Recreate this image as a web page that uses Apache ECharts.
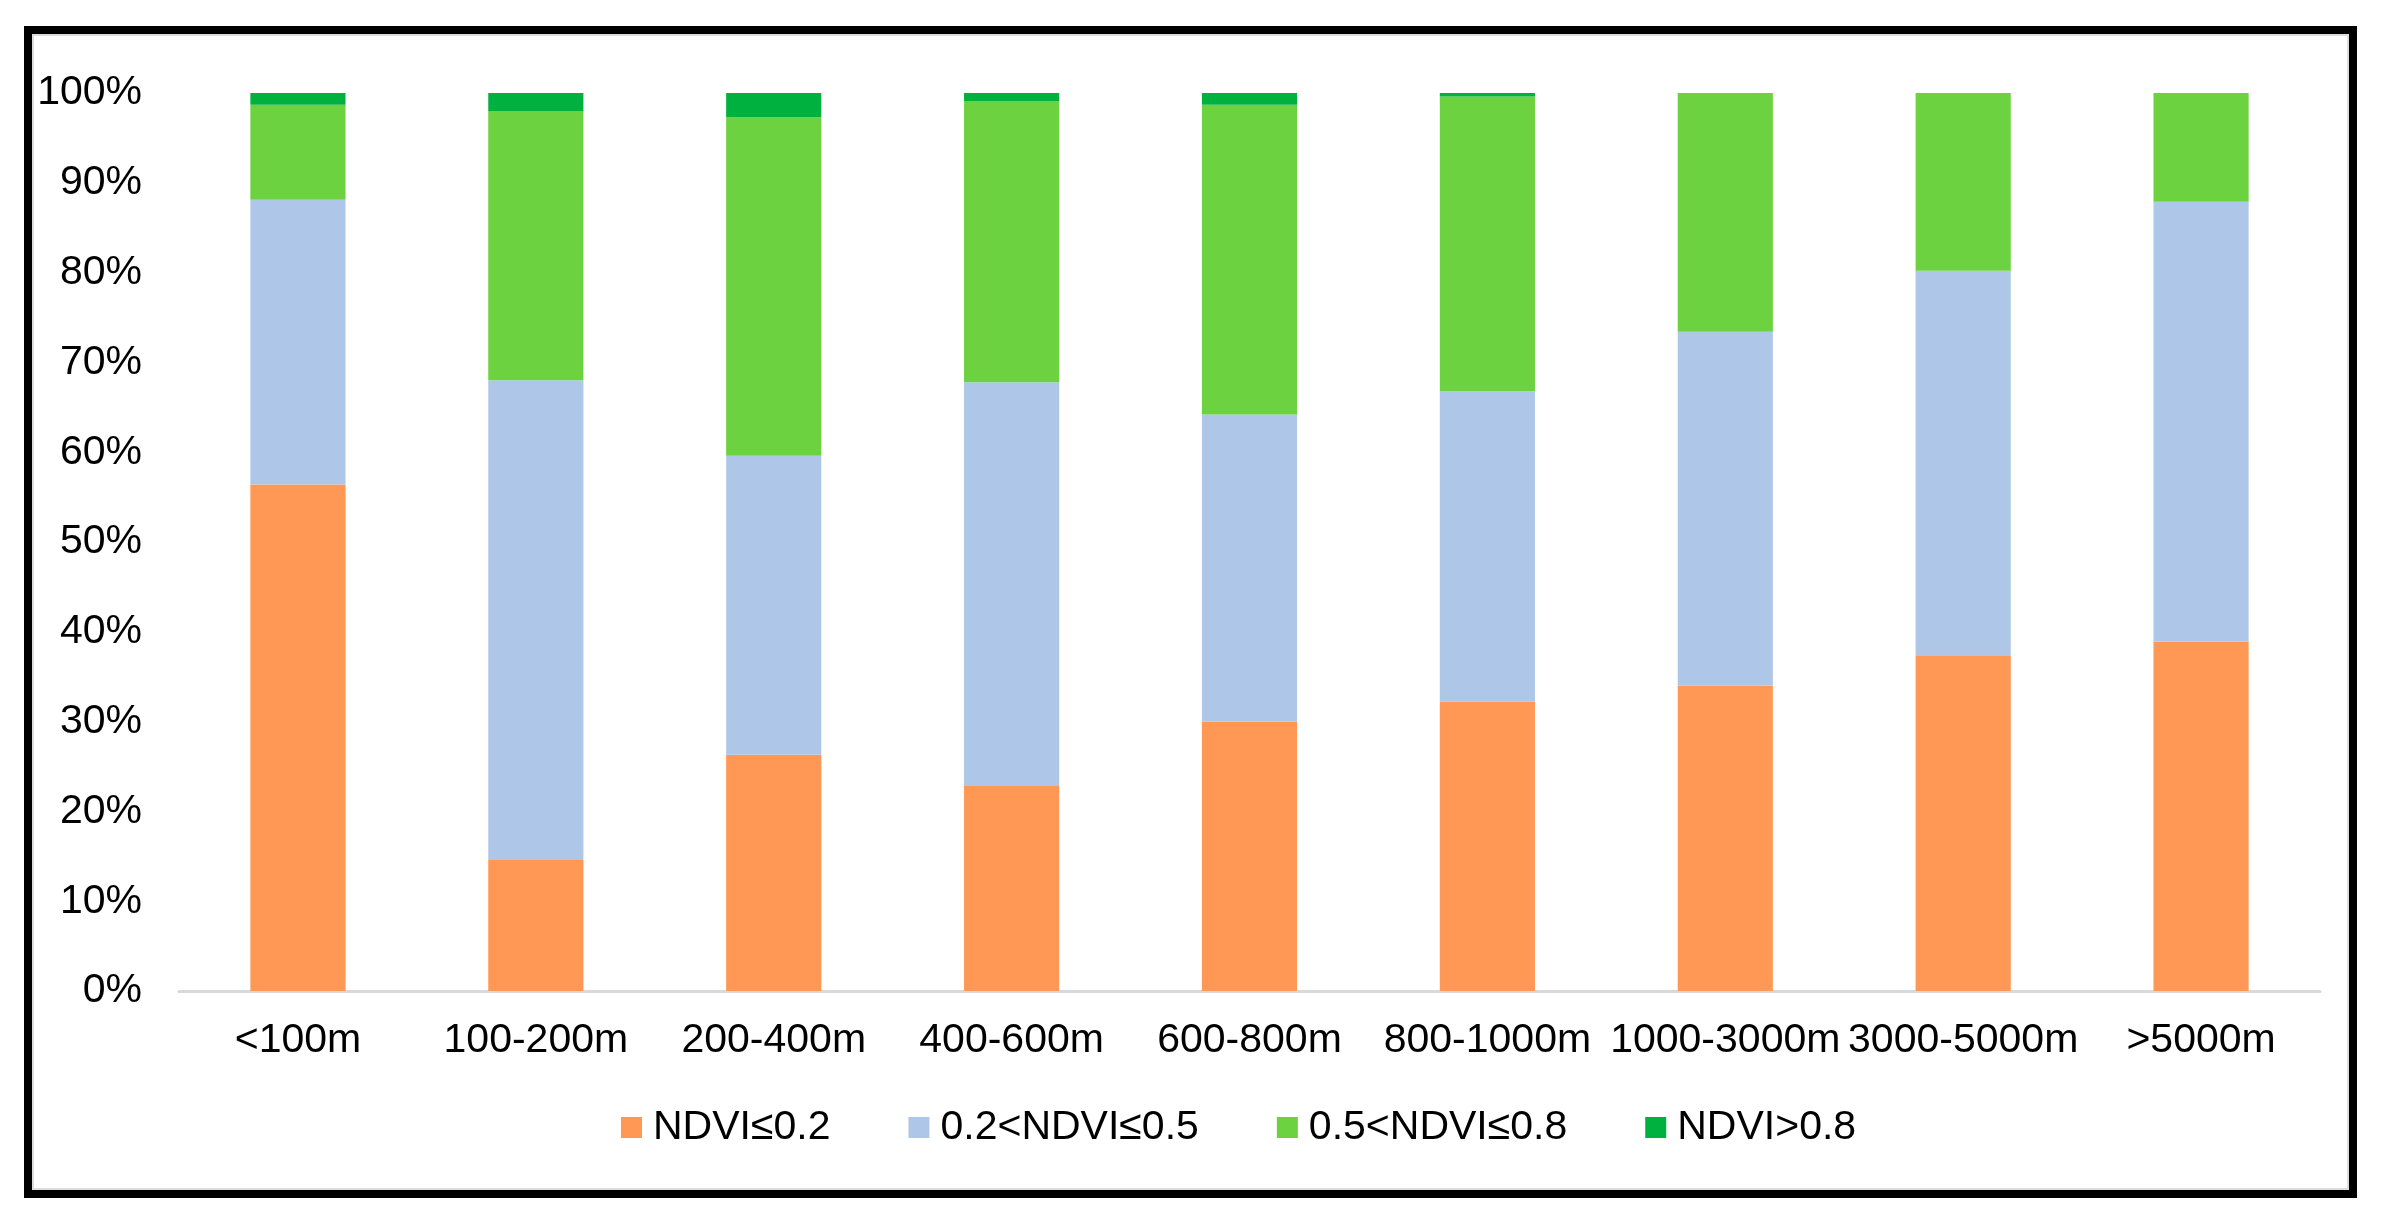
<!DOCTYPE html>
<html>
<head>
<meta charset="utf-8">
<script src="https://cdn.jsdelivr.net/npm/echarts@6/dist/echarts.min.js"></script>
<style>
html,body{margin:0;padding:0;background:#fff;}
#c{width:2383px;height:1221px;}
</style>
</head>
<body>
<div id="c"></div>
<script>
const categories = ['<100m','100-200m','200-400m','400-600m','600-800m','800-1000m','1000-3000m','3000-5000m','>5000m'];
const seriesNames = ['NDVI≤0.2','0.2<NDVI≤0.5','0.5<NDVI≤0.8','NDVI>0.8'];
const ndviLow = [56.4, 14.6, 26.3, 22.9, 30.0, 32.2, 34.0, 37.4, 38.9];
const ndviMidLow = [31.7, 53.4, 33.3, 44.9, 34.2, 34.6, 39.4, 42.8, 49.0];
const ndviMidHigh = [10.6, 30.0, 37.7, 31.3, 34.5, 32.8, 26.6, 19.8, 12.1];
const ndviHigh = [1.3, 2.0, 2.7, 0.9, 1.3, 0.4, 0, 0, 0];
const yTicks = [0,10,20,30,40,50,60,70,80,90,100];

const colors = ['#FF9854', '#AEC7E8', '#6DD23F', '#00B140'];
const font = "'Liberation Sans', Arial, sans-serif";
const allData = [ndviLow, ndviMidLow, ndviMidHigh, ndviHigh];

const chart = echarts.init(document.getElementById('c'));
chart.setOption({
  backgroundColor: '#ffffff',
  animation: false,
  color: colors,
  graphic: [
    { type: 'rect', shape: { x: 28, y: 30, width: 2325, height: 1164 },
      style: { fill: 'none', stroke: '#000', lineWidth: 8 }, z: 100 },
    { type: 'rect', shape: { x: 33, y: 35, width: 2315, height: 1154 },
      style: { fill: 'none', stroke: '#dcdcdc', lineWidth: 2 }, z: 99 }
  ],
  grid: { left: 179, right: 63, top: 93, bottom: 230, containLabel: false },
  legend: {
    data: seriesNames,
    left: 616,
    top: 1102,
    icon: 'rect',
    itemWidth: 21,
    itemHeight: 21,
    itemGap: 78,
    textStyle: { fontFamily: font, fontSize: 41, color: '#000', padding: [0,0,0,6] }
  },
  xAxis: {
    type: 'category',
    data: categories,
    axisLine: { show: true, lineStyle: { color: '#d9d9d9', width: 3 } },
    axisTick: { show: false },
    axisLabel: { fontFamily: font, fontSize: 41, color: '#000', margin: 29, interval: 0 }
  },
  yAxis: {
    type: 'value',
    min: yTicks[0],
    max: yTicks[yTicks.length - 1],
    interval: 10,
    axisLine: { show: false },
    axisTick: { show: false },
    splitLine: { show: false },
    axisLabel: { fontFamily: font, fontSize: 41, color: '#000', margin: 37, formatter: '{value}%' }
  },
  series: seriesNames.map((name, i) => ({
    name: name,
    type: 'bar',
    stack: 'total',
    barWidth: '40%',
    data: allData[i],
    itemStyle: { color: colors[i] }
  }))
});
</script>
</body>
</html>
